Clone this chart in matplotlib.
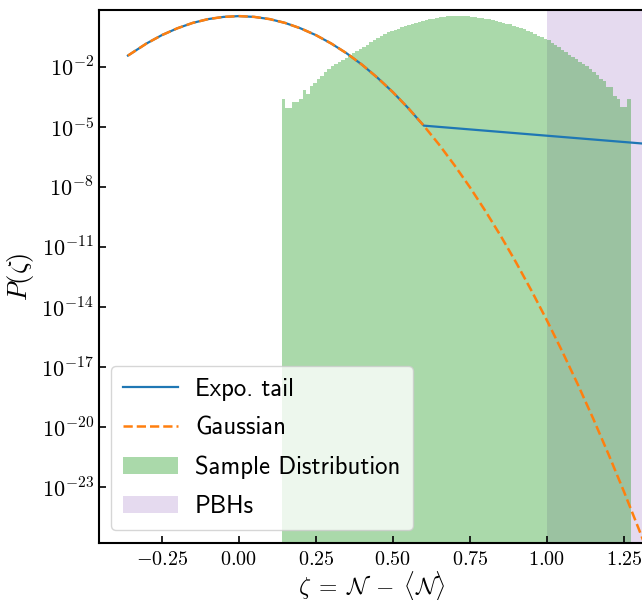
import numpy as np
import matplotlib
matplotlib.use("Agg")
import matplotlib.pyplot as plt
import matplotlib.ticker as mticker

plt.rcParams['mathtext.fontset'] = 'cm'

# Gaussian curve, log10 P
gauss_x = [-0.36, -0.30, -0.25, -0.20, -0.15, -0.10, -0.05, 0.00, 0.05, 0.10,
           0.15, 0.20, 0.25, 0.30, 0.35, 0.40, 0.45, 0.50, 0.55, 0.60,
           0.65, 0.70, 0.75, 0.80, 0.85, 0.90, 0.95, 1.00, 1.05, 1.10,
           1.15, 1.20, 1.25, 1.30, 1.35]
gauss_log = [-1.44, -0.84, -0.42, -0.08, 0.19, 0.38, 0.49, 0.53, 0.49, 0.38,
             0.19, -0.08, -0.42, -0.84, -1.33, -1.90, -2.55, -3.27, -4.07, -4.94,
             -5.89, -6.92, -8.02, -9.20, -10.45, -11.78, -13.19, -14.67, -16.23, -17.86,
             -19.57, -21.36, -23.22, -25.16, -27.17]

# exponential tail: gaussian up to 0.6, then straight line in log
tail_x = [-0.36, -0.30, -0.25, -0.20, -0.15, -0.10, -0.05, 0.00, 0.05, 0.10,
          0.15, 0.20, 0.25, 0.30, 0.35, 0.40, 0.45, 0.50, 0.55, 0.60, 1.45]
tail_log = [-1.44, -0.84, -0.42, -0.08, 0.19, 0.38, 0.49, 0.53, 0.49, 0.38,
            0.19, -0.08, -0.42, -0.84, -1.33, -1.90, -2.55, -3.27, -4.07, -4.94, -6.01]

# sample histogram (100 bins), log10 of bar heights
hist_lo, hist_hi, nbins = 0.1396, 1.272, 100
hist_log = [-3.62, -4.07, -4.07, -3.77, -3.77, -3.62, -3.17, -3.37, -2.95, -2.83,
            -2.60, -2.45, -2.25, -2.12, -1.98, -1.88, -1.76, -1.64, -1.54, -1.43,
            -1.33, -1.22, -1.12, -1.01, -0.89, -0.77, -0.66, -0.56, -0.46, -0.37,
            -0.28, -0.21, -0.15, -0.09, -0.03, 0.03, 0.08, 0.13, 0.18, 0.23,
            0.28, 0.33, 0.37, 0.41, 0.45, 0.48, 0.51, 0.53, 0.54, 0.55,
            0.55, 0.55, 0.54, 0.53, 0.51, 0.49, 0.46, 0.43, 0.40, 0.37,
            0.33, 0.29, 0.24, 0.20, 0.16, 0.12, 0.06, 0.00, -0.06, -0.13,
            -0.21, -0.27, -0.35, -0.44, -0.52, -0.60, -0.68, -0.79, -0.90, -1.03,
            -1.15, -1.27, -1.39, -1.50, -1.62, -1.74, -1.86, -1.98, -2.10, -2.24,
            -2.40, -2.62, -2.70, -3.00, -3.03, -3.45, -3.62, -4.02, -4.02, -3.62]

pbh_start = 1.0

fig = plt.figure(figsize=(6.42, 6.0), dpi=100)
ax = fig.add_axes([98.7/642, 57.3/600, (644-98.7)/642, 532.7/600])

span = ax.axvspan(pbh_start, 2.0, color='C4', alpha=0.24, lw=0, zorder=0)

edges = np.linspace(hist_lo, hist_hi, nbins + 1)
bars = ax.bar(edges[:-1], 10**np.array(hist_log), width=edges[1]-edges[0],
              align='edge', color='C2', alpha=0.4, lw=0, zorder=1)

l1, = ax.plot(tail_x, 10**np.array(tail_log), color='C0', lw=1.6, zorder=3)
l2, = ax.plot(gauss_x, 10**np.array(gauss_log), color='C1', lw=1.8, ls='--', zorder=4)

ax.set_yscale('log')
ax.set_xlim(-0.455, 1.315)
ax.set_ylim(10**-25.77, 10**0.835)

ax.yaxis.set_major_locator(mticker.FixedLocator([10.0**k for k in range(-23, 0, 3)]))
ax.yaxis.set_minor_locator(mticker.NullLocator())
ax.yaxis.set_major_formatter(mticker.FuncFormatter(lambda v, p: r'$10^{%d}$' % round(np.log10(v))))
ax.xaxis.set_major_locator(mticker.FixedLocator([-0.25, 0.0, 0.25, 0.5, 0.75, 1.0, 1.25]))
ax.xaxis.set_major_formatter(mticker.FuncFormatter(lambda v, p: r'$%.2f$' % v))

ax.tick_params(direction='in', length=5, width=1.2)
ax.tick_params(axis='x', labelsize=14.5, pad=5)
ax.tick_params(axis='y', labelsize=16)
for s in ax.spines.values():
    s.set_linewidth(1.5)

ax.set_xlabel(r'$\zeta\;=\;\mathcal{N}\;-\;\langle\mathcal{N}\rangle$', fontsize=17, labelpad=0)
ax.set_ylabel(r'$P(\zeta)$', fontsize=19, labelpad=4)

ax.legend([l1, l2, bars, span], ['Expo. tail', 'Gaussian', 'Sample Distribution', 'PBHs'],
          loc='lower left', prop={'family': 'cmss10', 'size': 17.8},
          labelspacing=0.64, handlelength=2.2, handletextpad=0.7, borderpad=0.5)

fig.savefig('out.png', dpi=100)
